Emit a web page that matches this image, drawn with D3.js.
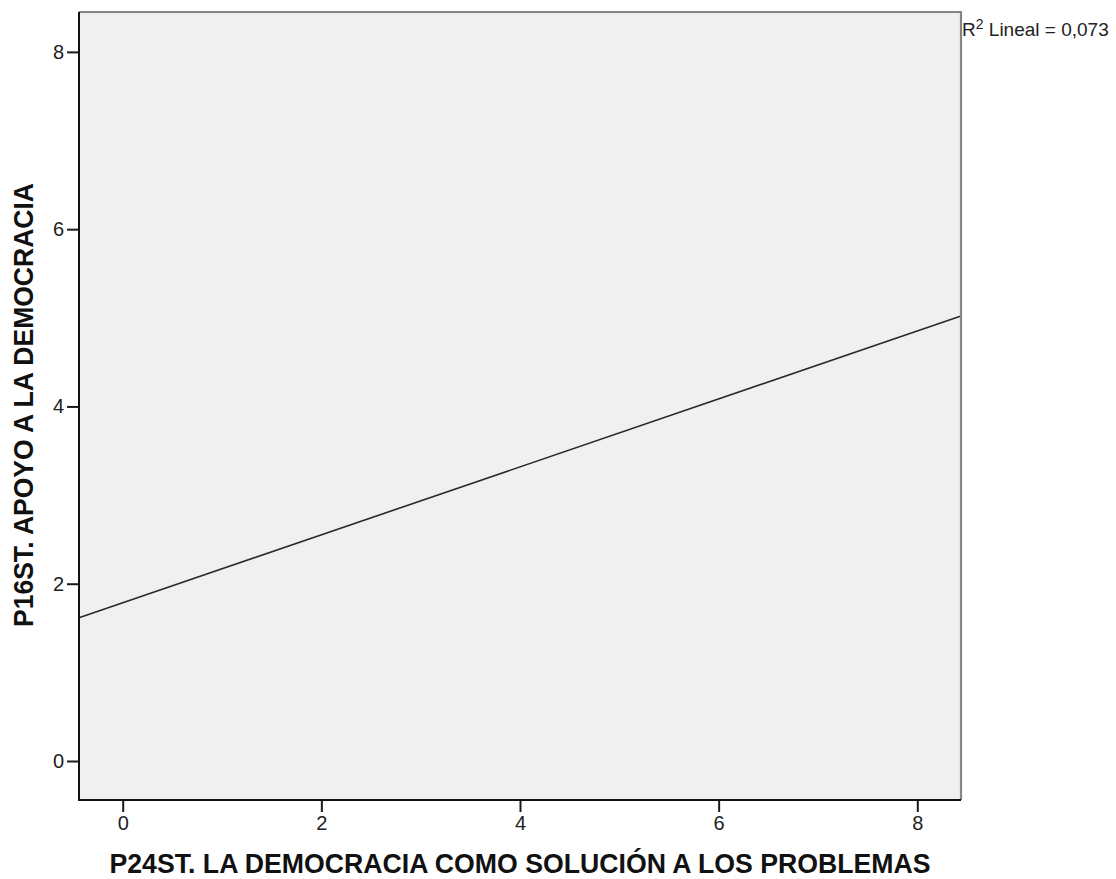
<!DOCTYPE html>
<html>
<head>
<meta charset="utf-8">
<script src="https://cdn.jsdelivr.net/npm/d3@7"></script>
<style>
  html, body { margin: 0; padding: 0; background: #ffffff; }
  svg { display: block; font-family: "Liberation Sans", Arial, sans-serif; }
</style>
</head>
<body>
<svg id="chart" width="1116" height="879"></svg>
<script>
// Axis ranges and ticks
const xDomain = [-0.44, 8.44];
const yDomain = [-0.44, 8.45];
const xTicks = [0, 2, 4, 6, 8];
const yTicks = [0, 2, 4, 6, 8];

// Linear fit line, drawn across the full x range
const fitX = [-0.44, 8.44];
const fitY = [1.616, 5.02];

const rSquared = "0,073";
const xTitle = "P24ST. LA DEMOCRACIA COMO SOLUCIÓN A LOS PROBLEMAS";
const yTitle = "P16ST. APOYO A LA DEMOCRACIA";

const svg = d3.select("#chart");
const plot = { left: 79, top: 12, right: 961, bottom: 800 };

const x = d3.scaleLinear().domain(xDomain).range([plot.left, plot.right]);
const y = d3.scaleLinear().domain(yDomain).range([plot.bottom, plot.top]);

// Plot background
svg.append("rect")
  .attr("x", plot.left).attr("y", plot.top)
  .attr("width", plot.right - plot.left).attr("height", plot.bottom - plot.top)
  .attr("fill", "#f0f0f0");

// Fit line
svg.append("path")
  .datum(fitX.map((v, i) => [v, fitY[i]]))
  .attr("d", d3.line().x(d => x(d[0])).y(d => y(d[1])))
  .attr("fill", "none")
  .attr("stroke", "#2a2a2a")
  .attr("stroke-width", 1.6);

// Top and right frame edges (grey)
svg.append("path")
  .attr("d", `M${plot.left},${plot.top}H${plot.right}V${plot.bottom}`)
  .attr("fill", "none")
  .attr("stroke", "#858585")
  .attr("stroke-width", 2.2);

// Axes
const yAxis = d3.axisLeft(y).tickValues(yTicks).tickSize(12).tickPadding(3)
  .tickFormat(d3.format("d"));
const xAxis = d3.axisBottom(x).tickValues(xTicks).tickSize(12).tickPadding(4)
  .tickFormat(d3.format("d"));

const gy = svg.append("g").attr("transform", `translate(${plot.left},0)`).call(yAxis);
const gx = svg.append("g").attr("transform", `translate(0,${plot.bottom})`).call(xAxis);

[gx, gy].forEach(g => {
  g.select(".domain").remove();
  g.selectAll(".tick line").attr("stroke", "#1a1a1a").attr("stroke-width", 2);
  g.selectAll(".tick text")
    .attr("fill", "#222")
    .style("font-size", "20px")
    .style("font-family", "'Liberation Sans', Arial, sans-serif");
});

// Left and bottom frame edges (black)
svg.append("path")
  .attr("d", `M${plot.left},${plot.top}V${plot.bottom}H${plot.right}`)
  .attr("fill", "none")
  .attr("stroke", "#111")
  .attr("stroke-width", 2);

// Axis titles
svg.append("text")
  .attr("x", (plot.left + plot.right) / 2)
  .attr("y", 873)
  .attr("text-anchor", "middle")
  .attr("textLength", 821)
  .attr("lengthAdjust", "spacingAndGlyphs")
  .style("font-size", "27px")
  .style("font-weight", "bold")
  .attr("fill", "#111")
  .text(xTitle);

svg.append("text")
  .attr("transform", `translate(33,405) rotate(-90)`)
  .attr("text-anchor", "middle")
  .attr("textLength", 444)
  .attr("lengthAdjust", "spacingAndGlyphs")
  .style("font-size", "28px")
  .style("font-weight", "bold")
  .attr("fill", "#111")
  .text(yTitle);

// R² annotation
const r2 = svg.append("text")
  .attr("x", 962)
  .attr("y", 36)
  .style("font-size", "19px")
  .attr("fill", "#222");
r2.append("tspan").text("R");
r2.append("tspan").attr("dy", -7).style("font-size", "14px").text("2");
r2.append("tspan").attr("dy", 7).text(" Lineal = " + rSquared);
</script>
</body>
</html>
